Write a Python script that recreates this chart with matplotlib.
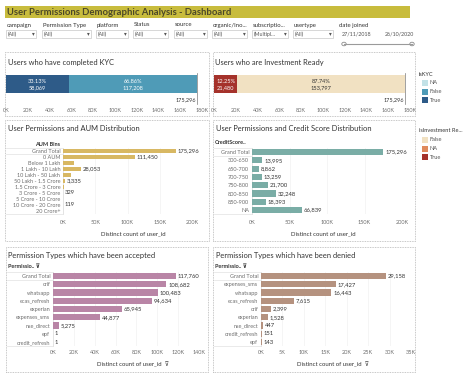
import matplotlib
matplotlib.use('Agg')
import matplotlib.pyplot as plt
from matplotlib.patches import Rectangle, Circle
from matplotlib.lines import Line2D
from matplotlib.ticker import FuncFormatter

plt.rcParams['font.family'] = ['Lato', 'DejaVu Sans']

# ---- data ----
kyc_labels = ['True', 'False', 'NA']
kyc_values = [58069, 117208, 19]
kyc_pct = ['33.13%', '66.86%', '']
kyc_total = 175296

inv_labels = ['True', 'NA', 'False']
inv_values = [21480, 19, 153797]
inv_pct = ['12.25%', '', '87.74%']
inv_total = 175296

aum_bins = ['Grand Total', '0 AUM', 'Below 1 Lakh', '1 Lakh - 10 Lakh', '10 Lakh - 50 Lakh',
            '50 Lakh - 1.5 Crore', '1.5 Crore - 3 Crore', '3 Crore - 5 Crore', '5 Crore - 10 Crore',
            '10 Crore - 20 Crore', '20 Crore+']
aum_values = [175296, 111450, 17500, 28053, 12600, 3335, 1100, 329, 250, 119, 60]
aum_show = [True, True, False, True, False, True, False, True, False, True, False]

credit_bins = ['Grand Total', '300-650', '650-700', '700-750', '750-800', '800-850', '850-900', 'NA']
credit_values = [175296, 13995, 8862, 13259, 21700, 32248, 18393, 66839]

acc_types = ['Grand Total', 'crif', 'whatsapp', 'ecas_refresh', 'experian', 'expenses_sms',
             'nse_direct', 'epf', 'credit_refresh']
acc_values = [117760, 108682, 100483, 94634, 65945, 44877, 5275, 1, 1]

den_types = ['Grand Total', 'expenses_sms', 'whatsapp', 'ecas_refresh', 'crif', 'experian',
             'nse_direct', 'credit_refresh', 'epf']
den_values = [29158, 17427, 16443, 7615, 2399, 1528, 447, 151, 143]

filters = ['campaign', 'Permission Type', 'platform', 'Status', 'source', 'organic/Ino...',
           'subscriptio...', 'usertype']
filter_values = ['(All)', '(All)', '(All)', '(All)', '(All)', '(All)', '(Multipl...', '(All)']
date_from, date_to = '27/11/2018', '26/10/2020'

kyc_colors = {'True': '#2e5b88', 'False': '#4f9bb7', 'NA': '#c3e2e7'}
inv_colors = {'True': '#a5322b', 'NA': '#e08a5c', 'False': '#f1e1c2'}
# segments with light fill get dark labels
light_fill = {'#f1e1c2', '#c3e2e7'}

W, H = 474, 381
fig = plt.figure(figsize=(W / 100, H / 100), dpi=100)
fig.patch.set_facecolor('white')

TXT = '#333333'
TICK = '#6e6e6e'


def fx(x):
    return x / W


def fy(y):
    return 1 - y / H


def rect(x0, y0, x1, y1, **kw):
    r = Rectangle((fx(x0), fy(y1)), (x1 - x0) / W, (y1 - y0) / H, transform=fig.transFigure, **kw)
    fig.add_artist(r)
    return r


def line(x0, y0, x1, y1, **kw):
    fig.add_artist(Line2D([fx(x0), fx(x1)], [fy(y0), fy(y1)], transform=fig.transFigure, **kw))


def txt(x, y, s, **kw):
    kw.setdefault('va', 'center')
    kw.setdefault('color', TXT)
    fig.text(fx(x), fy(y), s, **kw)


def panel(x0, y0, x1, y1):
    rect(x0, y0, x1, y1, facecolor='none', edgecolor='#b5b5b5', lw=0.6, ls=(0, (1, 1)))


def kfmt(v, pos):
    return f'{int(round(v / 1000))}K'


# ---- header ----
rect(5, 6, 410, 18, facecolor='#c8bc3d', edgecolor='none')
txt(7, 12.3, 'User Permissions Demographic Analysis - Dashboard', size=6.8, weight='bold', color='#4b4828')

fpos = [(6, 36), (42, 91), (96, 128), (133, 168), (174, 207), (212, 247), (252, 288), (293, 333)]
for name, val, (x0, x1) in zip(filters, filter_values, fpos):
    txt(x0 + 1, 25, name, size=4.3)
    rect(x0, 30.5, x1, 37.5, facecolor='white', edgecolor='#c8c8c8', lw=0.5)
    txt(x0 + 2, 34, val, size=3.9, color='#555555')
    txt(x1 - 3, 34, '\u25be', size=4, color='#555555', ha='center')
txt(339, 25, 'date joined', size=4.3)
txt(342, 34, date_from, size=3.9, color='#555555')
txt(385, 34, date_to, size=3.9, color='#555555')
line(344, 44, 412, 44, color='#9a9a9a', lw=0.8)
for cx in (344, 412):
    fig.add_artist(Circle((fx(cx), fy(44)), 2.2 / W, transform=fig.transFigure,
                          facecolor='white', edgecolor='#8a8a8a', lw=0.6))


# ---- stacked bars (top) ----
def stacked(x0, x1, xmax, labels, values, pcts, colors, total, title, tx, right):
    panel(x0 - 1, 52, right, 116)
    txt(tx, 63, title, size=5.4)
    ax = fig.add_axes([fx(x0), fy(105), (x1 - x0) / W, 36 / H])
    ax.set_xlim(0, xmax)
    ax.set_ylim(-1.0, 1.0)
    left = 0
    for lab, v, p in zip(labels, values, pcts):
        ax.barh(0.15, v, left=left, height=1.0, color=colors[lab], lw=0)
        if p:
            tc = TXT if colors[lab] in light_fill else 'white'
            ax.text(left + v / 2, 0.15, f'{p}\n{v:,}', ha='center', va='center', size=4.1,
                    color=tc, linespacing=1.25)
        left += v
    ax.plot([total, total], [-0.95, 0.75], color='#7a7a7a', lw=0.5)
    ax.text(total - xmax * 0.004, -0.72, f'{total:,}', ha='right', va='center', size=4.0, color=TXT,
            bbox=dict(facecolor='white', edgecolor='none', pad=0.3))
    ax.set_xticks(range(0, xmax + 1, 20000))
    ax.xaxis.set_major_formatter(FuncFormatter(kfmt))
    ax.tick_params(axis='x', length=0, labelsize=4.0, labelcolor=TICK, pad=2.5)
    ax.set_yticks([])
    for s in ax.spines.values():
        s.set_visible(False)
    ax.patch.set_alpha(0)


stacked(6, 202, 180000, kyc_labels, kyc_values, kyc_pct, kyc_colors, kyc_total,
        'Users who have completed KYC', 8, 209)
stacked(214, 410, 180000, inv_labels, inv_values, inv_pct, inv_colors, inv_total,
        'Users who are Investment Ready', 215, 415)


# ---- legends ----
def legend(y, title, items, colors):
    txt(419, y, title, size=4.1)
    for i, lab in enumerate(items):
        yy = y + 8.8 * (i + 1)
        rect(421.5, yy - 3, 427.5, yy + 3, facecolor=colors[lab], edgecolor='none')
        txt(430, yy, lab, size=4.1, color='#555555')


legend(74, 'isKYC', ['NA', 'False', 'True'], kyc_colors)
legend(131, 'isInvestment Re...', ['False', 'NA', 'True'], inv_colors)


# ---- row bar charts ----
def rows(cats, vals, color, box, title, header, hx, ha_head, bx0, bx1, xmax, step, y_first, rh,
         tick_y, xlab, xlab_x, xlab_y, show=None):
    panel(*box)
    txt(box[0] + 2.5, box[1] + 8.5, title, size=5.4)
    txt(hx, y_first - rh - 1, header, size=4.0, weight='bold', ha=ha_head)
    n = len(cats)
    top = y_first - rh / 2
    bot = y_first + rh * (n - 0.5)
    ax = fig.add_axes([fx(bx0), fy(bot), (bx1 - bx0) / W, (bot - top) / H])
    ax.set_xlim(0, xmax)
    ax.set_ylim(n - 0.5, -0.5)
    ax.barh(range(n), vals, height=0.74, color=color, lw=0, zorder=3)
    for i, v in enumerate(vals):
        if show is None or show[i]:
            ax.text(v + xmax * 0.012, i, f'{v:,}', va='center', ha='left', size=4.2, color=TXT, zorder=4)
    ax.set_yticks(range(n))
    ax.set_yticklabels(cats)
    ax.tick_params(axis='y', length=0, labelsize=4.0, labelcolor=TICK, pad=2)
    ax.set_xticks(range(0, xmax + 1, step))
    ax.xaxis.set_major_formatter(FuncFormatter(kfmt))
    pad_pt = (tick_y - bot - 2.5) / 1.389
    ax.tick_params(axis='x', length=0, labelsize=4.0, labelcolor=TICK, pad=pad_pt)
    ax.grid(axis='x', color='#f1f1f1', lw=0.5, zorder=0)
    for s in ax.spines.values():
        s.set_visible(False)
    ax.spines['left'].set_visible(True)
    ax.spines['left'].set_color('#dcdcdc')
    ax.spines['left'].set_linewidth(0.5)
    for yy in (top, top + rh, bot):
        line(box[0] + 1, yy, bx0, yy, color='#e2e2e2', lw=0.5)
    txt(xlab_x, xlab_y, xlab, size=4.3, ha='center')


rows(aum_bins, aum_values, '#d8b863', (5, 120, 209, 241), 'User Permissions and AUM Distribution',
     'AUM Bins', 60, 'right', 63, 192, 200000, 50000, 151, 6.0, 223,
     'Distinct count of user_id', 133, 234, show=aum_show)
rows(credit_bins, credit_values, '#7aada6', (213, 120, 415, 241),
     'User Permissions and Credit Score Distribution', 'CreditScore..', 215, 'left',
     252, 402, 200000, 50000, 152, 8.3, 223, 'Distinct count of user_id', 323, 234)
rows(acc_types, acc_values, '#b985a6', (6, 247, 208, 372), 'Permission Types which have been accepted',
     'Permissio.. \u22bd', 8, 'left', 53, 199, 140000, 20000, 276, 8.25, 353,
     'Distinct count of user_id  \u22bd', 133, 365)
rows(den_types, den_values, '#b5927f', (213, 247, 415, 372), 'Permission Types which have been denied',
     'Permissio.. \u22bd', 215, 'left', 261, 411, 35000, 5000, 276, 8.25, 353,
     'Distinct count of user_id  \u22bd', 333, 365)

fig.savefig('out.png', dpi=100, facecolor='white')
